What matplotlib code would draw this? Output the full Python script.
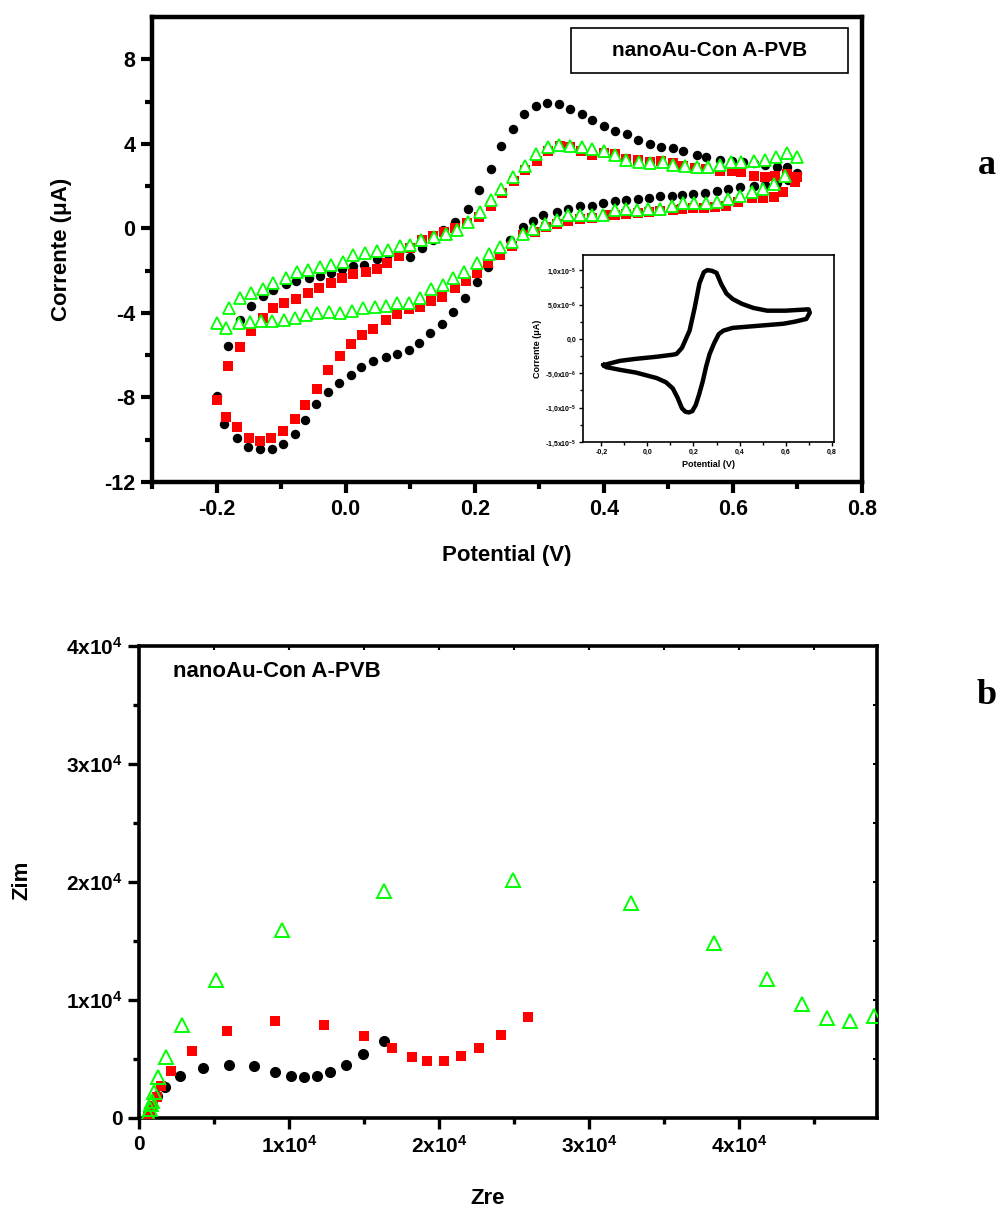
import matplotlib
matplotlib.use('Agg')
import matplotlib.pyplot as plt
from matplotlib.patches import Rectangle

plt.rcParams['font.family'] = ['Liberation Sans', 'DejaVu Sans']
plt.rcParams['font.weight'] = 'bold'
plt.rcParams['axes.unicode_minus'] = False
plt.rcParams['mathtext.fontset'] = 'custom'
plt.rcParams['mathtext.rm'] = 'Liberation Sans:bold'
plt.rcParams['mathtext.it'] = 'Liberation Sans:bold'
plt.rcParams['mathtext.bf'] = 'Liberation Sans:bold'

# ---- panel a: cyclic voltammograms (V, uA) ----
black_fwd_V = [-0.182, -0.164, -0.147, -0.128, -0.112, -0.093, -0.077, -0.057, -0.040, -0.022,
               -0.006, 0.012, 0.028, 0.048, 0.066, 0.083, 0.099, 0.119, 0.135, 0.151,
               0.169, 0.190, 0.207, 0.225, 0.240, 0.259, 0.276, 0.295, 0.312, 0.331,
               0.348, 0.366, 0.382, 0.400, 0.417, 0.436, 0.453, 0.471, 0.489, 0.507,
               0.523, 0.544, 0.559, 0.580, 0.598, 0.615, 0.632, 0.650, 0.668, 0.683, 0.699]
black_fwd_I = [-5.55, -4.33, -3.67, -3.20, -2.92, -2.64, -2.48, -2.37, -2.25, -2.09,
               -1.90, -1.79, -1.71, -1.47, -1.22, -1.15, -1.35, -0.91, -0.55, -0.09,
               0.30, 0.93, 1.82, 2.81, 3.91, 4.69, 5.40, 5.79, 5.95, 5.87,
               5.63, 5.40, 5.11, 4.85, 4.61, 4.45, 4.19, 3.98, 3.86, 3.80,
               3.67, 3.48, 3.36, 3.25, 3.17, 3.12, 3.07, 2.98, 2.89, 2.89, 2.60]
black_rev_V = [0.686, 0.668, 0.650, 0.632, 0.611, 0.593, 0.575, 0.557, 0.538, 0.521,
               0.505, 0.487, 0.470, 0.453, 0.435, 0.417, 0.398, 0.381, 0.363, 0.345,
               0.327, 0.306, 0.290, 0.275, 0.254, 0.238, 0.221, 0.203, 0.185, 0.166,
               0.149, 0.131, 0.114, 0.098, 0.080, 0.063, 0.043, 0.024, 0.008, -0.010,
               -0.027, -0.046, -0.063, -0.078, -0.097, -0.114, -0.133, -0.152, -0.169, -0.188, -0.200]
black_rev_I = [2.30, 2.15, 2.05, 2.00, 1.94, 1.84, 1.76, 1.68, 1.63, 1.59,
               1.55, 1.51, 1.45, 1.40, 1.35, 1.30, 1.19, 1.08, 1.04, 0.93,
               0.77, 0.61, 0.35, 0.06, -0.56, -1.20, -1.82, -2.56, -3.31, -3.97,
               -4.53, -4.93, -5.40, -5.74, -5.95, -6.09, -6.26, -6.56, -6.92, -7.31,
               -7.73, -8.33, -9.08, -9.71, -10.18, -10.42, -10.45, -10.32, -9.90, -9.24, -7.94]

red_fwd_V = [-0.182, -0.164, -0.146, -0.128, -0.113, -0.095, -0.077, -0.058, -0.041, -0.022,
             -0.005, 0.012, 0.031, 0.048, 0.064, 0.083, 0.100, 0.119, 0.135, 0.153,
             0.170, 0.188, 0.207, 0.225, 0.243, 0.261, 0.278, 0.296, 0.314, 0.332,
             0.348, 0.365, 0.382, 0.401, 0.417, 0.435, 0.453, 0.471, 0.489, 0.507,
             0.523, 0.541, 0.559, 0.580, 0.598, 0.613, 0.632, 0.650, 0.665, 0.683, 0.699]
red_fwd_I = [-6.53, -5.62, -4.85, -4.25, -3.75, -3.51, -3.34, -3.07, -2.84, -2.57,
             -2.34, -2.16, -2.06, -1.90, -1.66, -1.30, -0.91, -0.56, -0.38, -0.17,
             0.00, 0.25, 0.56, 1.04, 1.66, 2.26, 2.76, 3.20, 3.67, 3.91,
             3.83, 3.67, 3.48, 3.59, 3.52, 3.28, 3.23, 3.12, 3.20, 3.09,
             2.96, 2.86, 2.81, 2.73, 2.73, 2.65, 2.49, 2.45, 2.49, 2.57, 2.45]
red_rev_V = [0.696, 0.678, 0.663, 0.646, 0.629, 0.608, 0.590, 0.572, 0.555, 0.538,
             0.521, 0.507, 0.487, 0.470, 0.453, 0.435, 0.417, 0.404, 0.381, 0.363,
             0.345, 0.328, 0.310, 0.293, 0.275, 0.257, 0.239, 0.221, 0.203, 0.186,
             0.169, 0.150, 0.132, 0.115, 0.098, 0.080, 0.062, 0.043, 0.026, 0.009,
             -0.009, -0.027, -0.045, -0.063, -0.079, -0.097, -0.115, -0.132, -0.150, -0.169, -0.185, -0.200]
red_rev_I = [2.18, 1.71, 1.47, 1.45, 1.44, 1.24, 1.04, 1.00, 0.98, 0.97,
             0.90, 0.85, 0.80, 0.76, 0.72, 0.68, 0.64, 0.61, 0.50, 0.45,
             0.35, 0.19, 0.06, -0.17, -0.33, -0.83, -1.27, -1.66, -2.13, -2.50,
             -2.84, -3.23, -3.42, -3.70, -3.81, -4.06, -4.33, -4.75, -5.04, -5.47,
             -6.02, -6.68, -7.58, -8.36, -9.04, -9.58, -9.93, -10.08, -9.90, -9.40, -8.91, -8.14]

green_fwd_V = [-0.181, -0.164, -0.146, -0.128, -0.112, -0.093, -0.075, -0.058, -0.040, -0.022,
               -0.004, 0.012, 0.030, 0.048, 0.065, 0.084, 0.100, 0.117, 0.137, 0.155,
               0.172, 0.190, 0.208, 0.225, 0.241, 0.259, 0.278, 0.295, 0.313, 0.331,
               0.348, 0.366, 0.382, 0.400, 0.417, 0.435, 0.455, 0.471, 0.491, 0.507,
               0.526, 0.544, 0.562, 0.580, 0.597, 0.613, 0.632, 0.650, 0.667, 0.683, 0.699]
green_fwd_I = [-3.78, -3.31, -3.04, -2.89, -2.60, -2.37, -2.06, -1.98, -1.85, -1.74,
               -1.59, -1.27, -1.16, -1.08, -1.00, -0.85, -0.77, -0.56, -0.41, -0.25,
               -0.09, 0.30, 0.77, 1.32, 1.87, 2.42, 2.96, 3.51, 3.83, 3.95,
               3.91, 3.83, 3.75, 3.67, 3.48, 3.23, 3.15, 3.09, 3.15, 3.00,
               2.93, 2.89, 2.89, 3.00, 3.12, 3.15, 3.20, 3.23, 3.36, 3.59, 3.39]
green_rev_V = [0.681, 0.663, 0.646, 0.629, 0.611, 0.593, 0.575, 0.558, 0.540, 0.522,
               0.505, 0.487, 0.469, 0.452, 0.434, 0.417, 0.399, 0.381, 0.363, 0.345,
               0.327, 0.309, 0.290, 0.275, 0.257, 0.239, 0.222, 0.203, 0.184, 0.167,
               0.151, 0.133, 0.115, 0.098, 0.080, 0.062, 0.045, 0.027, 0.010, -0.008,
               -0.026, -0.044, -0.061, -0.078, -0.096, -0.114, -0.131, -0.148, -0.165, -0.185, -0.200]
green_rev_I = [2.49, 2.10, 1.84, 1.71, 1.55, 1.40, 1.24, 1.19, 1.19, 1.19,
               1.08, 0.93, 0.93, 0.88, 0.93, 0.85, 0.61, 0.61, 0.61, 0.61,
               0.38, 0.22, -0.02, -0.25, -0.64, -0.88, -1.19, -1.66, -2.06, -2.33,
               -2.68, -2.89, -3.31, -3.51, -3.55, -3.67, -3.70, -3.78, -3.89, -4.02,
               -3.94, -3.99, -4.09, -4.25, -4.33, -4.38, -4.36, -4.41, -4.49, -4.69, -4.49]

# inset CV (A)
inset_V = [-0.19, -0.12, -0.05, 0.04, 0.11, 0.126, 0.15, 0.183, 0.205, 0.226, 0.245, 0.26,
           0.28, 0.30, 0.32, 0.343, 0.37, 0.41, 0.46, 0.52, 0.60, 0.70, 0.705, 0.69,
           0.64, 0.59, 0.48, 0.37, 0.33, 0.31, 0.29, 0.27, 0.255, 0.24, 0.225, 0.21,
           0.195, 0.18, 0.165, 0.15, 0.13, 0.11, 0.08, 0.04, -0.05, -0.12, -0.18, -0.19]
inset_I = [-3.8e-6, -3.2e-6, -2.9e-6, -2.6e-6, -2.3e-6, -2.2e-6, -1.3e-6, 1.2e-6, 4.5e-6, 8.1e-6, 9.7e-6, 1.0e-5,
           9.9e-6, 9.6e-6, 8.0e-6, 6.6e-6, 5.8e-6, 5.1e-6, 4.5e-6, 4.1e-6, 4.1e-6, 4.3e-6, 3.8e-6, 2.9e-6,
           2.5e-6, 2.2e-6, 1.9e-6, 1.6e-6, 1.2e-6, 0.7e-6, -0.6e-6, -2.2e-6, -4.0e-6, -6.2e-6, -8.0e-6, -9.6e-6,
           -10.5e-6, -10.7e-6, -10.6e-6, -10.1e-6, -8.5e-6, -7.2e-6, -6.3e-6, -5.7e-6, -4.9e-6, -4.5e-6, -4.1e-6, -3.8e-6]

# ---- panel b: Nyquist (ohm) ----
black_zre = [600, 1200, 1730, 2730, 4270, 6000, 7690, 9070, 10130, 11020, 11870, 12730, 13800, 14960, 16360]
black_zim = [340, 1900, 2630, 3560, 4240, 4490, 4400, 3900, 3560, 3470, 3560, 3900, 4490, 5420, 6530]
red_zre = [600, 730, 960, 1200, 1470, 2130, 3530, 5870, 9070, 12330, 15000, 16870, 18200, 19200,
           20330, 21470, 22670, 24150, 25930]
red_zim = [60, 170, 1020, 1780, 2710, 3980, 5680, 7370, 8220, 7880, 6950, 5930, 5170, 4830,
           4830, 5250, 5930, 7000, 8560]
green_zre = [610, 730, 800, 870, 1000, 1270, 1800, 2870, 5130, 9530, 16330, 24930, 32800,
             38330, 41870, 44200, 45870, 47400, 49000]
green_zim = [340, 760, 1190, 1440, 2200, 3470, 5170, 7880, 11700, 15930, 19240, 20170, 18220,
             14830, 11780, 9660, 8470, 8220, 8640]

fig = plt.figure(figsize=(10.02, 12.16), dpi=100)

# ================= panel a =================
ax1 = fig.add_axes([0.1517, 0.6036, 0.7086, 0.3824])
ax1.plot(black_fwd_V + black_rev_V, black_fwd_I + black_rev_I, 'o', color='black',
         markersize=6.8, markeredgewidth=0, zorder=3)
ax1.plot(red_fwd_V + red_rev_V, red_fwd_I + red_rev_I, 's', color='#ff0000',
         markersize=7.2, markeredgewidth=0, zorder=4)
ax1.plot(green_fwd_V + green_rev_V, green_fwd_I + green_rev_I, '^', markerfacecolor='white',
         markeredgecolor='#00ff00', markersize=8.5, markeredgewidth=1.3, zorder=5)
ax1.set_xlim(-0.3, 0.8)
ax1.set_ylim(-12, 10)
ax1.set_xticks([-0.2, 0.0, 0.2, 0.4, 0.6, 0.8])
ax1.set_xticks([-0.3, -0.1, 0.1, 0.3, 0.5, 0.7], minor=True)
ax1.set_xticklabels(['-0.2', '0.0', '0.2', '0.4', '0.6', '0.8'])
ax1.set_yticks([-12, -8, -4, 0, 4, 8])
ax1.set_yticklabels(['-12', '-8', '-4', '0', '4', '8'])
ax1.set_yticks([-10, -6, -2, 2, 6], minor=True)
for s in ax1.spines.values():
    s.set_linewidth(3.2)
ax1.tick_params(which='major', direction='out', length=8, width=3, labelsize=15.5, pad=4)
ax1.tick_params(which='minor', direction='out', length=5, width=3)
for lab in ax1.get_xticklabels() + ax1.get_yticklabels():
    lab.set_fontweight('bold')
ax1.set_xlabel('Potential (V)', fontsize=16, fontweight='bold')
ax1.set_ylabel('Corrente (μA)', fontsize=16, fontweight='bold')
ax1.xaxis.set_label_coords(0.499, -0.135)
ax1.yaxis.set_label_coords(-0.113, 0.5)

ax1.add_patch(Rectangle((0.590, 0.880), 0.390, 0.096, transform=ax1.transAxes,
                        fill=False, edgecolor='black', linewidth=1.2, zorder=6))
ax1.text(0.785, 0.928, 'nanoAu-Con A-PVB', transform=ax1.transAxes, ha='center',
         va='center', fontsize=15, fontweight='bold', zorder=7)

# inset
axi = fig.add_axes([0.5818, 0.6365, 0.2505, 0.1538])
axi.plot(inset_V, inset_I, color='black', linewidth=3.2, solid_joinstyle='round')
axi.set_xlim(-0.28, 0.81)
axi.set_ylim(-1.5e-5, 1.22e-5)
axi.set_xticks([-0.2, 0.0, 0.2, 0.4, 0.6, 0.8])
axi.set_xticklabels(['-0,2', '0,0', '0,2', '0,4', '0,6', '0,8'])
axi.set_xticks([-0.1, 0.1, 0.3, 0.5, 0.7], minor=True)
axi.set_yticks([-1.5e-5, -1.0e-5, -5e-6, 0, 5e-6, 1.0e-5])
axi.set_yticklabels(['-1,5x10$^{-5}$', '-1,0x10$^{-5}$', '-5,0x10$^{-6}$', '0,0',
                     '5,0x10$^{-6}$', '1,0x10$^{-5}$'])
axi.set_yticks([-1.25e-5, -7.5e-6, -2.5e-6, 2.5e-6, 7.5e-6], minor=True)
for s in axi.spines.values():
    s.set_linewidth(1.2)
axi.tick_params(which='major', direction='out', length=3, width=1, labelsize=5, pad=2)
axi.tick_params(which='minor', direction='out', length=2, width=1)
axi.set_xlabel('Potential (V)', fontsize=6.5, fontweight='bold', labelpad=3)
axi.set_ylabel('Corrente (μA)', fontsize=6.5, fontweight='bold', labelpad=2)

fig.text(0.985, 0.864, 'a', family=['Liberation Serif'], fontsize=26, fontweight='bold',
         ha='center', va='center')

# ================= panel b =================
ax2 = fig.add_axes([0.1387, 0.0806, 0.7365, 0.3882])
ax2.plot(black_zre, black_zim, 'o', color='black', markersize=8, markeredgewidth=0, zorder=3)
ax2.plot(red_zre, red_zim, 's', color='#ff0000', markersize=7.8, markeredgewidth=0, zorder=4)
ax2.plot(green_zre, green_zim, '^', markerfacecolor='none', markeredgecolor='#00ff00',
         markersize=9.5, markeredgewidth=1.4, zorder=5)
ax2.set_xlim(0, 49200)
ax2.set_ylim(0, 40000)
ax2.set_xticks([0, 10000, 20000, 30000, 40000])
ax2.set_xticklabels(['0', '1x10$^{4}$', '2x10$^{4}$', '3x10$^{4}$', '4x10$^{4}$'])
ax2.set_xticks([5000, 15000, 25000, 35000, 45000], minor=True)
ax2.set_yticks([0, 10000, 20000, 30000, 40000])
ax2.set_yticklabels(['0', '1x10$^{4}$', '2x10$^{4}$', '3x10$^{4}$', '4x10$^{4}$'])
ax2.set_yticks([5000, 15000, 25000, 35000], minor=True)
for s in ax2.spines.values():
    s.set_linewidth(2.6)
ax2.tick_params(which='major', direction='out', length=8, width=2.4, labelsize=15, pad=4)
ax2.tick_params(which='minor', direction='out', length=4.5, width=2.4)
ax2.set_xlabel('Zre', fontsize=16, fontweight='bold')
ax2.set_ylabel('Zim', fontsize=16, fontweight='bold')
ax2.xaxis.set_label_coords(0.472, -0.148)
ax2.yaxis.set_label_coords(-0.144, 0.504)
ax2.text(0.046, 0.945, 'nanoAu-Con A-PVB', transform=ax2.transAxes, ha='left',
         va='center', fontsize=16, fontweight='bold')

# small inward ticks on top and right spines
top = ax2.secondary_xaxis('top')
top.set_xticks([5000, 10000, 15000, 20000, 25000, 30000, 35000, 40000, 45000])
top.tick_params(direction='in', length=3, width=1.5, labeltop=False)
top.spines['top'].set_visible(False)
right = ax2.secondary_yaxis('right')
right.set_yticks([5000, 10000, 15000, 20000, 25000, 30000, 35000])
right.tick_params(direction='in', length=3, width=1.5, labelright=False)
right.spines['right'].set_visible(False)

fig.text(0.985, 0.428, 'b', family=['Liberation Serif'], fontsize=26, fontweight='bold',
         ha='center', va='center')

fig.savefig('out.png', dpi=100)
